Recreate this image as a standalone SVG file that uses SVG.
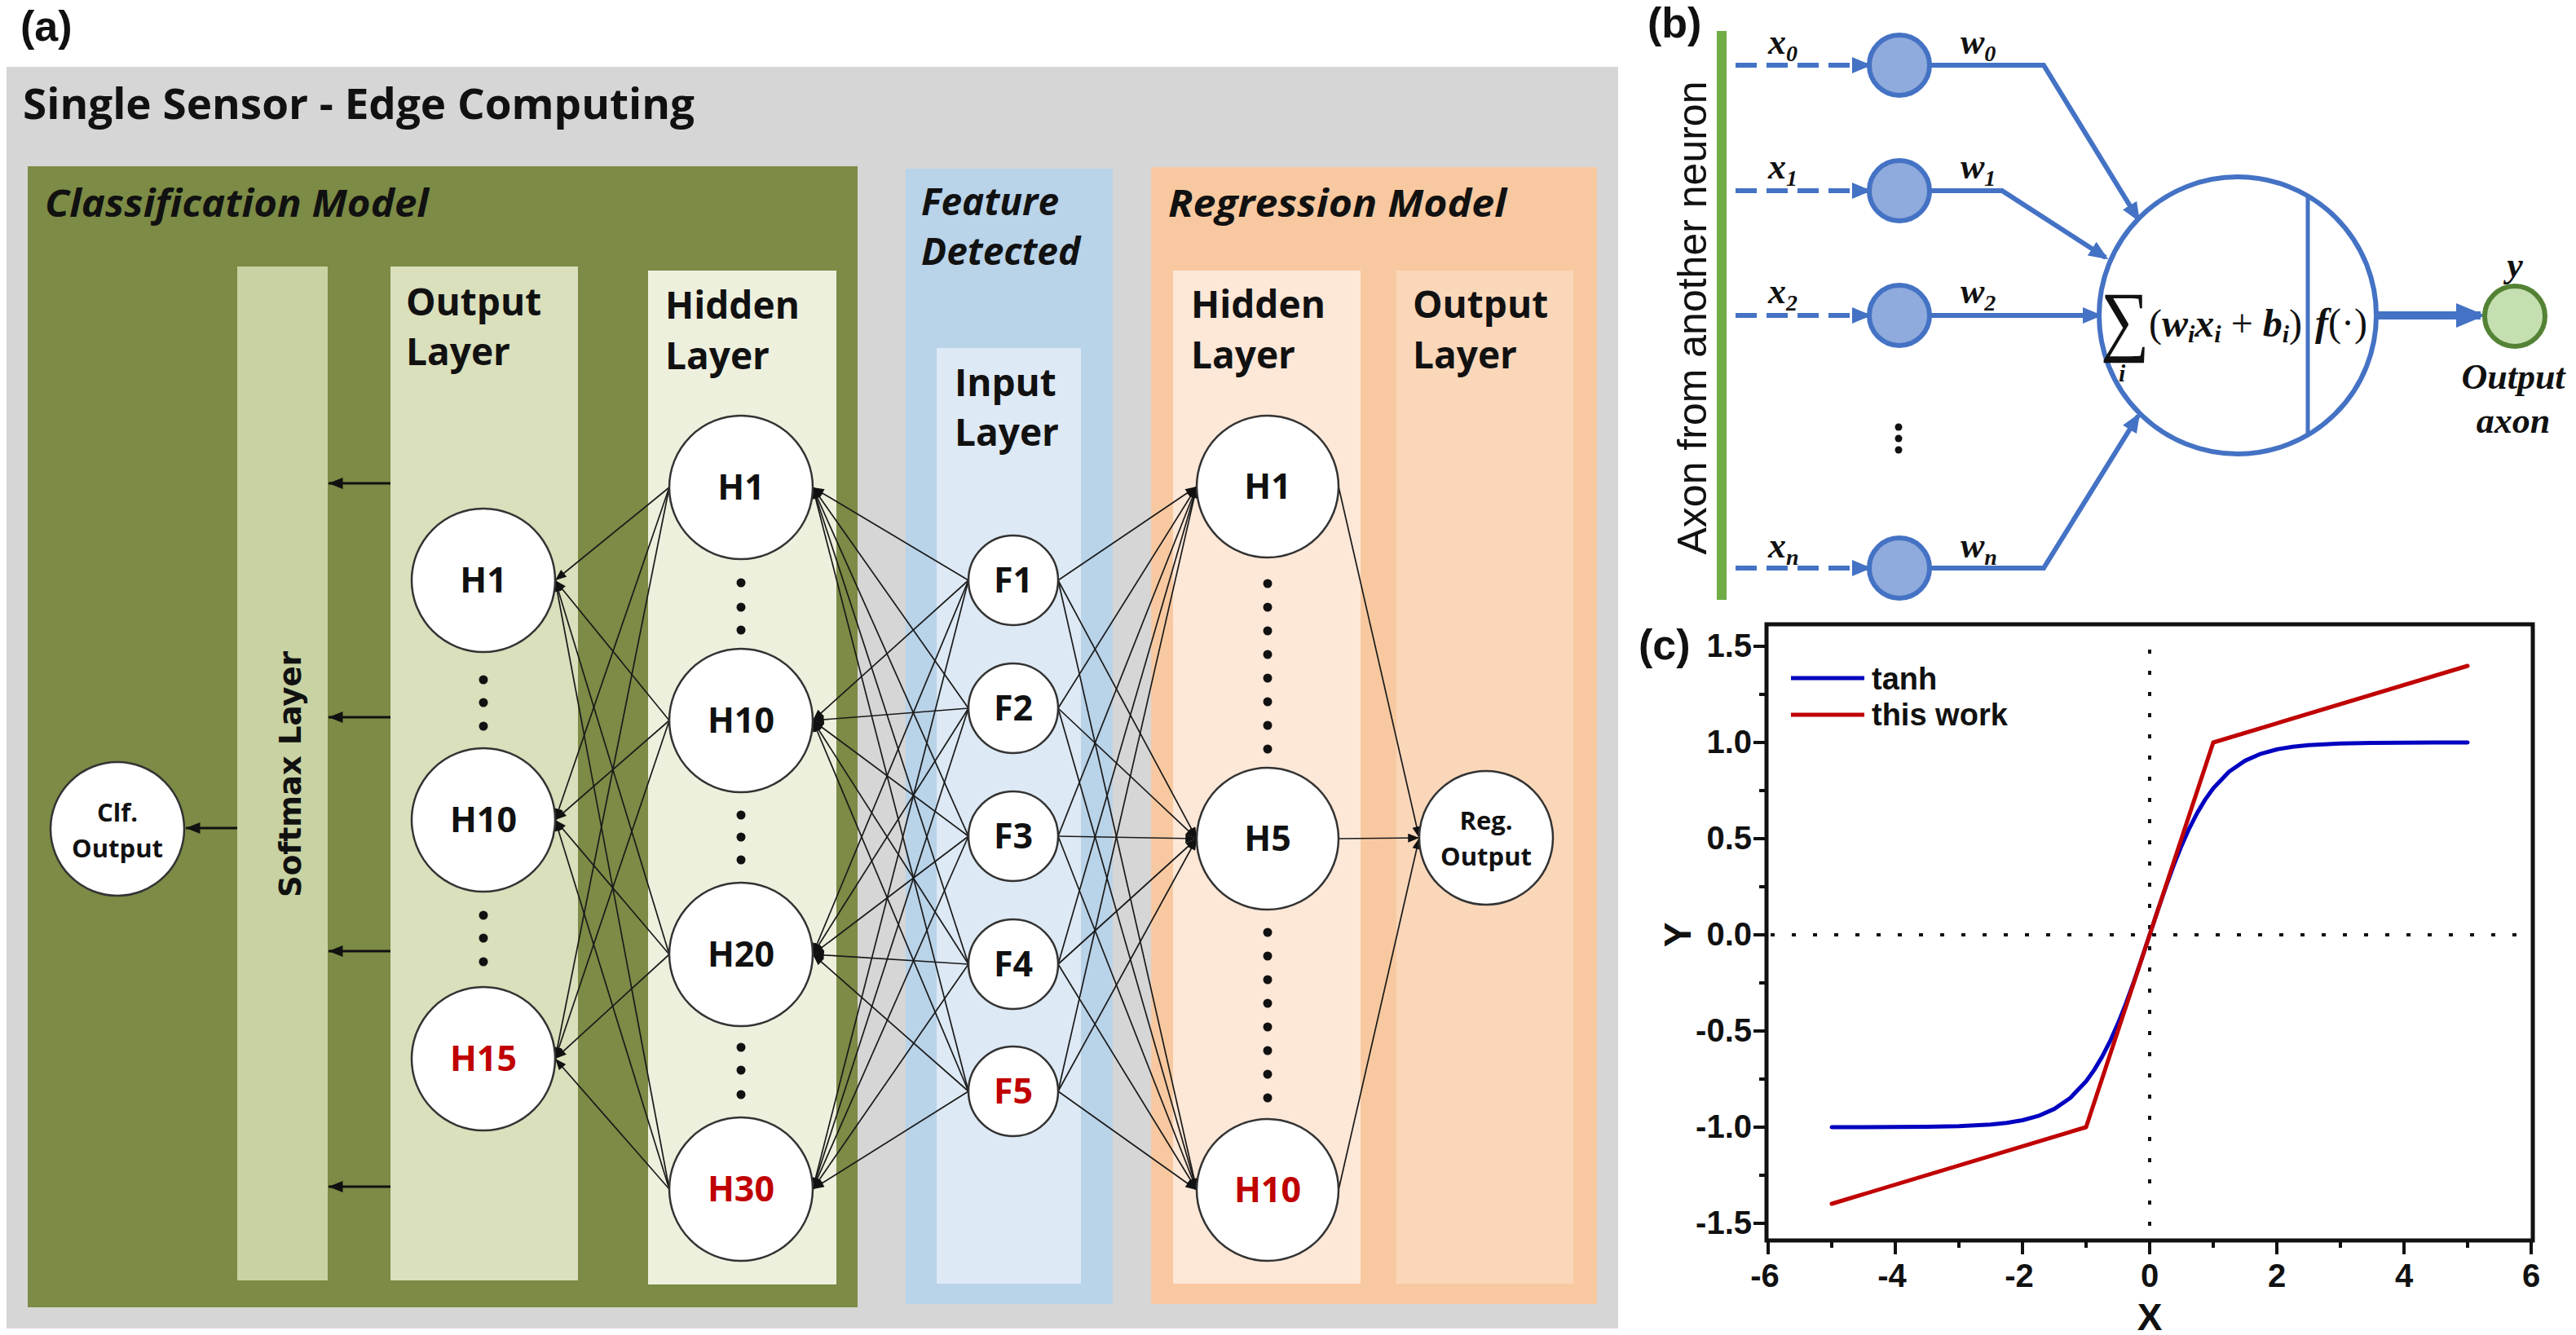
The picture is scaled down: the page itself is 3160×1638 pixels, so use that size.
<svg xmlns="http://www.w3.org/2000/svg" width="3160" height="1638" viewBox="0 0 3160 1638">
<style>
.sans{font-family:"Open Sans","Noto Sans","Liberation Sans",sans-serif;font-weight:bold;fill:#111}
.hd{font-size:46px}
.ti{font-style:italic}
.nl{font-size:43px;text-anchor:middle}
.sl{font-size:31px;text-anchor:middle}
.red{fill:#c00000}
.node{fill:#fff;stroke:#333;stroke-width:2.5}
.c line{stroke:#1a1a1a;stroke-width:1.7;marker-end:url(#ah)}
.big line{stroke:#111;stroke-width:3;marker-end:url(#ah2)}
.dot{fill:#111}
.blue{stroke:#4472c4;stroke-width:6;fill:none}
.ser{font-family:"Liberation Serif","DejaVu Serif",serif;fill:#111}
.arial{font-family:"Liberation Sans",Arial,sans-serif;font-weight:bold;fill:#111}
.tick{stroke:#111;stroke-width:4}
</style>
<defs>
<marker id="ah" viewBox="0 0 10 8" refX="10" refY="4" markerWidth="15" markerHeight="11" markerUnits="userSpaceOnUse" orient="auto"><path d="M0,0 L10,4 L0,8 z" fill="#111"/></marker>
<marker id="ah2" viewBox="0 0 10 8" refX="10" refY="4" markerWidth="18" markerHeight="14" markerUnits="userSpaceOnUse" orient="auto"><path d="M0,0 L10,4 L0,8 z" fill="#111"/></marker>
<marker id="bh" viewBox="0 0 12 10" refX="10" refY="5" markerWidth="24" markerHeight="20" markerUnits="userSpaceOnUse" orient="auto"><path d="M0,0 L12,5 L0,10 z" fill="#4472c4"/></marker>
<marker id="bh2" viewBox="0 0 12 10" refX="10" refY="5" markerWidth="36" markerHeight="30" markerUnits="userSpaceOnUse" orient="auto"><path d="M0,0 L12,5 L0,10 z" fill="#4472c4"/></marker>
</defs>
<rect width="3160" height="1638" fill="#fff"/>

<!-- Panel (a) -->
<g id="panel-a">
<text class="arial" x="25" y="50" font-size="52">(a)</text>
<rect x="8" y="82" width="1977" height="1548" fill="#d6d6d6"/>
<text class="sans" x="28" y="146" font-size="52" textLength="824" lengthAdjust="spacingAndGlyphs">Single Sensor - Edge Computing</text>
</g>

<g id="classification-model">
<rect x="34" y="204" width="1018" height="1400" fill="#7c8b45"/>
<text class="sans hd ti" x="55" y="266" textLength="471" lengthAdjust="spacingAndGlyphs">Classification Model</text>
<rect x="291" y="327" width="111" height="1244" fill="#c8d2a2"/>
<rect x="479" y="327" width="230" height="1244" fill="#dadfbc"/>
<rect x="795" y="332" width="231" height="1244" fill="#eef0de"/>
<text class="sans hd" x="498" y="387">Output</text>
<text class="sans hd" x="498" y="448">Layer</text>
<text class="sans hd" x="816" y="391">Hidden</text>
<text class="sans hd" x="816" y="453">Layer</text>
</g>

<g id="softmax-layer">
<text transform="translate(369,950) rotate(-90)" font-family="DejaVu Sans,Verdana,sans-serif" font-weight="bold" font-size="38" text-anchor="middle" fill="#111" textLength="302" lengthAdjust="spacingAndGlyphs">Softmax Layer</text>
</g>

<g id="feature-detected">
<rect x="1111" y="207" width="254" height="1393" fill="#b9d3e9"/>
<rect x="1149" y="427" width="177" height="1148" fill="#dde9f4"/>
<text class="sans hd ti" x="1130" y="264">Feature</text>
<text class="sans hd ti" x="1130" y="325">Detected</text>
<text class="sans hd" x="1171" y="486">Input</text>
<text class="sans hd" x="1171" y="547">Layer</text>
</g>

<g id="regression-model">
<rect x="1412" y="205" width="547" height="1395" fill="#f8c9a0"/>
<rect x="1439" y="332" width="230" height="1243" fill="#fde7d7"/>
<rect x="1713" y="332" width="217" height="1243" fill="#fbd7ba"/>
<text class="sans hd ti" x="1433" y="266" textLength="415" lengthAdjust="spacingAndGlyphs">Regression Model</text>
<text class="sans hd" x="1461" y="390">Hidden</text>
<text class="sans hd" x="1461" y="452">Layer</text>
<text class="sans hd" x="1733" y="390">Output</text>
<text class="sans hd" x="1733" y="452">Layer</text>
</g>

<!-- connectors of panel (a) -->
<g id="connectors-a">
<g class="big">
<line x1="479" y1="593" x2="403" y2="593"/>
<line x1="479" y1="880" x2="403" y2="880"/>
<line x1="479" y1="1167" x2="403" y2="1167"/>
<line x1="479" y1="1456" x2="403" y2="1456"/>
<line x1="291" y1="1016" x2="228" y2="1016"/>
</g>
<g class="c">
<!-- classification hidden -> output layer -->
<line x1="821" y1="598" x2="681" y2="712"/><line x1="821" y1="598" x2="681" y2="1006"/><line x1="821" y1="598" x2="681" y2="1299"/>
<line x1="821" y1="884" x2="681" y2="712"/><line x1="821" y1="884" x2="681" y2="1006"/><line x1="821" y1="884" x2="681" y2="1299"/>
<line x1="821" y1="1171" x2="681" y2="712"/><line x1="821" y1="1171" x2="681" y2="1006"/><line x1="821" y1="1171" x2="681" y2="1299"/>
<line x1="821" y1="1459" x2="681" y2="712"/><line x1="821" y1="1459" x2="681" y2="1006"/><line x1="821" y1="1459" x2="681" y2="1299"/>
<!-- features -> classification hidden -->
<line x1="1188" y1="712" x2="997" y2="598"/><line x1="1188" y1="712" x2="997" y2="884"/><line x1="1188" y1="712" x2="997" y2="1171"/><line x1="1188" y1="712" x2="997" y2="1459"/>
<line x1="1188" y1="869" x2="997" y2="598"/><line x1="1188" y1="869" x2="997" y2="884"/><line x1="1188" y1="869" x2="997" y2="1171"/><line x1="1188" y1="869" x2="997" y2="1459"/>
<line x1="1188" y1="1026" x2="997" y2="598"/><line x1="1188" y1="1026" x2="997" y2="884"/><line x1="1188" y1="1026" x2="997" y2="1171"/><line x1="1188" y1="1026" x2="997" y2="1459"/>
<line x1="1188" y1="1183" x2="997" y2="598"/><line x1="1188" y1="1183" x2="997" y2="884"/><line x1="1188" y1="1183" x2="997" y2="1171"/><line x1="1188" y1="1183" x2="997" y2="1459"/>
<line x1="1188" y1="1339" x2="997" y2="598"/><line x1="1188" y1="1339" x2="997" y2="884"/><line x1="1188" y1="1339" x2="997" y2="1171"/><line x1="1188" y1="1339" x2="997" y2="1459"/>
<!-- features -> regression hidden -->
<line x1="1298" y1="712" x2="1468" y2="597"/><line x1="1298" y1="712" x2="1468" y2="1029"/><line x1="1298" y1="712" x2="1468" y2="1460"/>
<line x1="1298" y1="869" x2="1468" y2="597"/><line x1="1298" y1="869" x2="1468" y2="1029"/><line x1="1298" y1="869" x2="1468" y2="1460"/>
<line x1="1298" y1="1026" x2="1468" y2="597"/><line x1="1298" y1="1026" x2="1468" y2="1029"/><line x1="1298" y1="1026" x2="1468" y2="1460"/>
<line x1="1298" y1="1183" x2="1468" y2="597"/><line x1="1298" y1="1183" x2="1468" y2="1029"/><line x1="1298" y1="1183" x2="1468" y2="1460"/>
<line x1="1298" y1="1339" x2="1468" y2="597"/><line x1="1298" y1="1339" x2="1468" y2="1029"/><line x1="1298" y1="1339" x2="1468" y2="1460"/>
<!-- regression hidden -> output -->
<line x1="1642" y1="597" x2="1741" y2="1028"/><line x1="1642" y1="1029" x2="1741" y2="1028"/><line x1="1642" y1="1460" x2="1741" y2="1028"/>
</g>
</g>

<!-- nodes of panel (a) -->
<g id="clf-output"><circle class="node" cx="144" cy="1017" r="82"/><text class="sans sl" x="144" y="1008">Clf.</text><text class="sans sl" x="144" y="1052">Output</text></g>
<g id="out-h1"><circle class="node" cx="593" cy="712" r="88"/><text class="sans nl" x="593" y="727">H1</text></g>
<g id="out-h10"><circle class="node" cx="593" cy="1006" r="88"/><text class="sans nl" x="593" y="1021">H10</text></g>
<g id="out-h15"><circle class="node" cx="593" cy="1299" r="88"/><text class="sans nl red" x="593" y="1314">H15</text></g>
<g id="cls-h1"><circle class="node" cx="909" cy="598" r="88"/><text class="sans nl" x="909" y="613">H1</text></g>
<g id="cls-h10"><circle class="node" cx="909" cy="884" r="88"/><text class="sans nl" x="909" y="899">H10</text></g>
<g id="cls-h20"><circle class="node" cx="909" cy="1171" r="88"/><text class="sans nl" x="909" y="1186">H20</text></g>
<g id="cls-h30"><circle class="node" cx="909" cy="1459" r="88"/><text class="sans nl red" x="909" y="1474">H30</text></g>
<g id="f1"><circle class="node" cx="1243" cy="712" r="55"/><text class="sans nl" x="1243" y="727">F1</text></g>
<g id="f2"><circle class="node" cx="1243" cy="869" r="55"/><text class="sans nl" x="1243" y="884">F2</text></g>
<g id="f3"><circle class="node" cx="1243" cy="1026" r="55"/><text class="sans nl" x="1243" y="1041">F3</text></g>
<g id="f4"><circle class="node" cx="1243" cy="1183" r="55"/><text class="sans nl" x="1243" y="1198">F4</text></g>
<g id="f5"><circle class="node" cx="1243" cy="1339" r="55"/><text class="sans nl red" x="1243" y="1354">F5</text></g>
<g id="reg-h1"><circle class="node" cx="1555" cy="597" r="87"/><text class="sans nl" x="1555" y="612">H1</text></g>
<g id="reg-h5"><circle class="node" cx="1555" cy="1029" r="87"/><text class="sans nl" x="1555" y="1044">H5</text></g>
<g id="reg-h10"><circle class="node" cx="1555" cy="1460" r="87"/><text class="sans nl red" x="1555" y="1475">H10</text></g>
<g id="reg-output"><circle class="node" cx="1823" cy="1028" r="82"/><text class="sans sl" x="1823" y="1018">Reg.</text><text class="sans sl" x="1823" y="1062">Output</text></g>

<g id="ellipsis-dots">
<circle class="dot" cx="593" cy="834" r="5.5"/><circle class="dot" cx="593" cy="862" r="5.5"/><circle class="dot" cx="593" cy="891" r="5.5"/>
<circle class="dot" cx="593" cy="1123" r="5.5"/><circle class="dot" cx="593" cy="1151" r="5.5"/><circle class="dot" cx="593" cy="1180" r="5.5"/>
<circle class="dot" cx="909" cy="715" r="5.5"/><circle class="dot" cx="909" cy="745" r="5.5"/><circle class="dot" cx="909" cy="773" r="5.5"/>
<circle class="dot" cx="909" cy="1000" r="5.5"/><circle class="dot" cx="909" cy="1027" r="5.5"/><circle class="dot" cx="909" cy="1055" r="5.5"/>
<circle class="dot" cx="909" cy="1285" r="5.5"/><circle class="dot" cx="909" cy="1313" r="5.5"/><circle class="dot" cx="909" cy="1343" r="5.5"/>
<circle class="dot" cx="1555" cy="716" r="5.5"/><circle class="dot" cx="1555" cy="745" r="5.5"/><circle class="dot" cx="1555" cy="774" r="5.5"/><circle class="dot" cx="1555" cy="803" r="5.5"/><circle class="dot" cx="1555" cy="832" r="5.5"/><circle class="dot" cx="1555" cy="861" r="5.5"/><circle class="dot" cx="1555" cy="890" r="5.5"/><circle class="dot" cx="1555" cy="919" r="5.5"/>
<circle class="dot" cx="1555" cy="1144" r="5.5"/><circle class="dot" cx="1555" cy="1173" r="5.5"/><circle class="dot" cx="1555" cy="1202" r="5.5"/><circle class="dot" cx="1555" cy="1231" r="5.5"/><circle class="dot" cx="1555" cy="1260" r="5.5"/><circle class="dot" cx="1555" cy="1289" r="5.5"/><circle class="dot" cx="1555" cy="1318" r="5.5"/><circle class="dot" cx="1555" cy="1347" r="5.5"/>
</g>

<!-- Panel (b) -->
<g id="panel-b">
<text class="arial" x="2021" y="46" font-size="52">(b)</text>
<line x1="2112" y1="38" x2="2112" y2="736" stroke="#70ad47" stroke-width="12"/>
<text transform="translate(2093,390) rotate(-90)" font-family="Liberation Sans,Arial,sans-serif" font-size="50" text-anchor="middle" fill="#111" textLength="581" lengthAdjust="spacingAndGlyphs">Axon from another neuron</text>
</g>
<g id="connectors-b">
<g class="blue" stroke-dasharray="26 12" marker-end="url(#bh)">
<line x1="2129" y1="80" x2="2292" y2="80"/>
<line x1="2129" y1="234" x2="2292" y2="234"/>
<line x1="2129" y1="387" x2="2292" y2="387"/>
<line x1="2129" y1="697" x2="2292" y2="697"/>
</g>
<g class="blue" marker-end="url(#bh)">
<polyline points="2367,80 2507,80 2623,269"/>
<polyline points="2367,234 2456,234 2583,316"/>
<polyline points="2367,387 2575,387"/>
<polyline points="2367,697 2507,697 2623,510"/>
</g>
<line x1="2914" y1="387" x2="3043" y2="387" stroke="#4472c4" stroke-width="10" marker-end="url(#bh2)"/>
</g>
<g id="input-neurons">
<circle cx="2330" cy="80" r="37" fill="#8faadc" stroke="#4472c4" stroke-width="6"/>
<circle cx="2330" cy="234" r="37" fill="#8faadc" stroke="#4472c4" stroke-width="6"/>
<circle cx="2330" cy="387" r="37" fill="#8faadc" stroke="#4472c4" stroke-width="6"/>
<circle cx="2330" cy="697" r="37" fill="#8faadc" stroke="#4472c4" stroke-width="6"/>
<circle cx="2329" cy="524" r="4.5" fill="#111"/><circle cx="2329" cy="538" r="4.5" fill="#111"/><circle cx="2329" cy="552" r="4.5" fill="#111"/>
</g>
<g id="labels-b" class="ser" font-weight="bold" font-style="italic" font-size="44">
<text x="2169" y="66">x<tspan font-size="28" dy="9">0</tspan></text>
<text x="2169" y="219">x<tspan font-size="28" dy="9">1</tspan></text>
<text x="2169" y="372">x<tspan font-size="28" dy="9">2</tspan></text>
<text x="2169" y="684">x<tspan font-size="28" dy="9">n</tspan></text>
<text x="2405" y="66">w<tspan font-size="28" dy="9">0</tspan></text>
<text x="2405" y="219">w<tspan font-size="28" dy="9">1</tspan></text>
<text x="2405" y="372">w<tspan font-size="28" dy="9">2</tspan></text>
<text x="2405" y="684">w<tspan font-size="28" dy="9">n</tspan></text>
</g>
<g id="neuron-body">
<circle cx="2745" cy="387" r="170" fill="#fff" stroke="#4472c4" stroke-width="6"/>
<line x1="2831" y1="241" x2="2831" y2="533" stroke="#4472c4" stroke-width="5"/>
<text class="ser" transform="translate(2577,425) scale(1,1.15)" font-size="84">∑</text>
<text class="ser" x="2599" y="468" font-size="30" font-style="italic" font-weight="bold">i</text>
<text class="ser" x="2636" y="413" font-size="48">(<tspan font-style="italic" font-weight="bold">w</tspan><tspan font-style="italic" font-weight="bold" font-size="30" dy="7">i</tspan><tspan font-style="italic" font-weight="bold" dy="-7">x</tspan><tspan font-style="italic" font-weight="bold" font-size="30" dy="7">i</tspan><tspan dy="-7"> + </tspan><tspan font-style="italic" font-weight="bold">b</tspan><tspan font-style="italic" font-weight="bold" font-size="30" dy="7">i</tspan><tspan dy="-7">)</tspan></text>
<text class="ser" x="2840" y="412" font-size="48"><tspan font-style="italic" font-weight="bold">f</tspan>(·)</text>
</g>
<g id="output-axon">
<circle cx="3085" cy="388" r="37" fill="#c5dfb1" stroke="#548235" stroke-width="6"/>
<text class="ser" x="3085" y="340" font-size="44" font-weight="bold" font-style="italic" text-anchor="middle">y</text>
<text class="ser" x="3083" y="477" font-size="44" font-weight="bold" font-style="italic" text-anchor="middle">Output</text>
<text class="ser" x="3083" y="531" font-size="44" font-weight="bold" font-style="italic" text-anchor="middle">axon</text>
</g>

<!-- Panel (c) -->
<g id="panel-c">
<text class="arial" x="2010" y="809" font-size="52">(c)</text>
<line x1="2637" y1="797" x2="2637" y2="1516" stroke="#111" stroke-width="4" stroke-dasharray="5 21"/>
<line x1="2172" y1="1147" x2="3090" y2="1147" stroke="#111" stroke-width="4" stroke-dasharray="5 21"/>
<g class="tick">
<line x1="2167" y1="793" x2="2151" y2="793"/><line x1="2167" y1="911" x2="2151" y2="911"/><line x1="2167" y1="1029" x2="2151" y2="1029"/><line x1="2167" y1="1147" x2="2151" y2="1147"/><line x1="2167" y1="1265" x2="2151" y2="1265"/><line x1="2167" y1="1383" x2="2151" y2="1383"/><line x1="2167" y1="1501" x2="2151" y2="1501"/>
<line x1="2167" y1="852" x2="2158" y2="852"/><line x1="2167" y1="970" x2="2158" y2="970"/><line x1="2167" y1="1088" x2="2158" y2="1088"/><line x1="2167" y1="1206" x2="2158" y2="1206"/><line x1="2167" y1="1324" x2="2158" y2="1324"/><line x1="2167" y1="1442" x2="2158" y2="1442"/>
<line x1="2169" y1="1522" x2="2169" y2="1539"/><line x1="2325" y1="1522" x2="2325" y2="1539"/><line x1="2481" y1="1522" x2="2481" y2="1539"/><line x1="2637" y1="1522" x2="2637" y2="1539"/><line x1="2793" y1="1522" x2="2793" y2="1539"/><line x1="2949" y1="1522" x2="2949" y2="1539"/><line x1="3105" y1="1522" x2="3105" y2="1539"/>
<line x1="2247" y1="1522" x2="2247" y2="1531"/><line x1="2403" y1="1522" x2="2403" y2="1531"/><line x1="2559" y1="1522" x2="2559" y2="1531"/><line x1="2715" y1="1522" x2="2715" y2="1531"/><line x1="2871" y1="1522" x2="2871" y2="1531"/><line x1="3027" y1="1522" x2="3027" y2="1531"/>
</g>
<rect x="2167" y="766" width="940" height="756" fill="none" stroke="#111" stroke-width="5"/>
<g class="arial" font-size="40" text-anchor="end">
<text x="2149" y="806">1.5</text><text x="2149" y="924">1.0</text><text x="2149" y="1042">0.5</text><text x="2149" y="1160">0.0</text><text x="2149" y="1278">-0.5</text><text x="2149" y="1396">-1.0</text><text x="2149" y="1514">-1.5</text>
</g>
<g class="arial" font-size="40" text-anchor="middle">
<text x="2165" y="1579">-6</text><text x="2321" y="1579">-4</text><text x="2477" y="1579">-2</text><text x="2637" y="1579">0</text><text x="2793" y="1579">2</text><text x="2949" y="1579">4</text><text x="3105" y="1579">6</text>
</g>
<text class="arial" x="2637" y="1632" font-size="46" text-anchor="middle">X</text>
<text class="arial" transform="translate(2074,1147) rotate(-90)" font-size="46" text-anchor="middle">Y</text>
<polyline fill="none" stroke="#0000c0" stroke-width="5" stroke-linejoin="round" stroke-linecap="round" points="2247,1383 2286,1382.9 2325,1382.8 2364,1382.6 2403,1381.8 2442,1379.8 2461.5,1377.8 2481,1374.5 2500.5,1369.2 2520,1360.6 2539.5,1347.2 2559,1326.7 2568.75,1313.1 2578.5,1296.9 2588.25,1277.9 2598,1256.1 2607.75,1231.6 2617.5,1204.8 2627.25,1176.4 2637,1147 2646.75,1117.6 2656.5,1089.2 2666.25,1062.4 2676,1037.9 2685.75,1016.1 2695.5,997.1 2705.25,980.9 2715,967.3 2734.5,946.8 2754,933.4 2773.5,924.8 2793,919.5 2812.5,916.2 2832,914.2 2871,912.2 2910,911.4 2949,911.2 2988,911.1 3027,911"/>
<polyline fill="none" stroke="#c00000" stroke-width="5" stroke-linejoin="round" stroke-linecap="round" points="2247,1477 2559,1383 2715,911 3027,817"/>
<line x1="2197" y1="832" x2="2287" y2="832" stroke="#0000c0" stroke-width="5"/>
<text class="arial" x="2296" y="846" font-size="38">tanh</text>
<line x1="2197" y1="877" x2="2287" y2="877" stroke="#c00000" stroke-width="5"/>
<text class="arial" x="2296" y="890" font-size="38">this work</text>
</g>
</svg>
